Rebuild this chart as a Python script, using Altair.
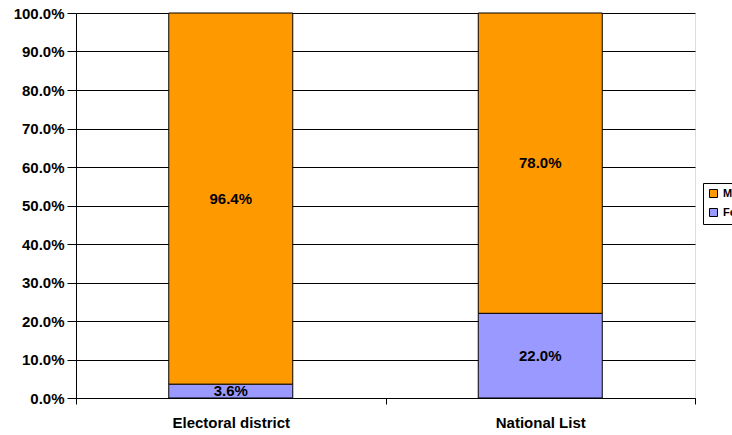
import altair as alt
import pandas as pd

categories = ["Electoral district", "National List"]
female = [0.036, 0.220]
male = [0.964, 0.780]
ytick_values = [0.0, 0.1, 0.2, 0.3, 0.4, 0.5, 0.6, 0.7, 0.8, 0.9, 1.0]

rows = []
for c, f, m in zip(categories, female, male):
    rows.append({"cat": c, "gender": "Female", "value": f, "ord": 0})
    rows.append({"cat": c, "gender": "Male", "value": m, "ord": 1})
df = pd.DataFrame(rows)

FONT = "Liberation Sans"
FS = 15

base = alt.Chart(df).transform_stack(
    stack="value", groupby=["cat"], as_=["y0", "y1"], sort=[alt.SortField("ord")]
).transform_calculate(mid="(datum.y0 + datum.y1) / 2")

xaxis = alt.Axis(labelAngle=0, tickBand="extent", grid=False,
                 domainColor="black", tickColor="black", tickSize=6,
                 labelPadding=11, labelFont=FONT, labelFontSize=FS,
                 labelFontWeight="bold", labelColor="black")
yaxis = alt.Axis(format=".1%", values=ytick_values, tickCount=20,
                 labelOverlap=False,
                 grid=True, gridColor="black", gridOpacity=1, gridWidth=1,
                 domainColor="black", tickColor="black", tickSize=9,
                 labelPadding=3, labelFont=FONT, labelFontSize=FS,
                 labelFontWeight="bold", labelColor="black")
xscale = alt.Scale(paddingInner=0, paddingOuter=0)
yscale = alt.Scale(domain=[0, 1], nice=False)

bars = base.mark_bar(size=124, stroke="black", strokeWidth=1).encode(
    x=alt.X("cat:N", sort=categories, title=None, scale=xscale, axis=xaxis),
    y=alt.Y("y0:Q", title=None, scale=yscale, axis=yaxis),
    y2="y1:Q",
    color=alt.Color("gender:N", scale=alt.Scale(domain=["Male", "Female"], range=["#FF9900", "#9999FF"]),
                    legend=alt.Legend(title=None, orient="none", legendX=627, legendY=170,
                                      symbolType="square", symbolSize=64,
                                      symbolStrokeColor="black", symbolStrokeWidth=1,
                                      labelFont=FONT, labelFontSize=11, labelFontWeight="bold",
                                      labelColor="black", strokeColor="black", fillColor="white",
                                      padding=5, rowPadding=6, labelOffset=4)),
)

labels = base.mark_text(font=FONT, fontSize=FS, fontWeight="bold", color="black", baseline="middle").encode(
    x=alt.X("cat:N", sort=categories, title=None, scale=xscale, axis=xaxis),
    y=alt.Y("mid:Q", title=None, scale=yscale, axis=yaxis),
    text=alt.Text("value:Q", format=".1%"),
)

chart = alt.layer(bars, labels).properties(
    width=619, height=385,
    autosize=alt.AutoSizeParams(type="none"),
    padding={"left": 76, "top": 13, "right": 37, "bottom": 37},
).configure_view(stroke=None).configure(background="white")

chart.save("out.html", embed_options={"renderer": "svg", "actions": False})
